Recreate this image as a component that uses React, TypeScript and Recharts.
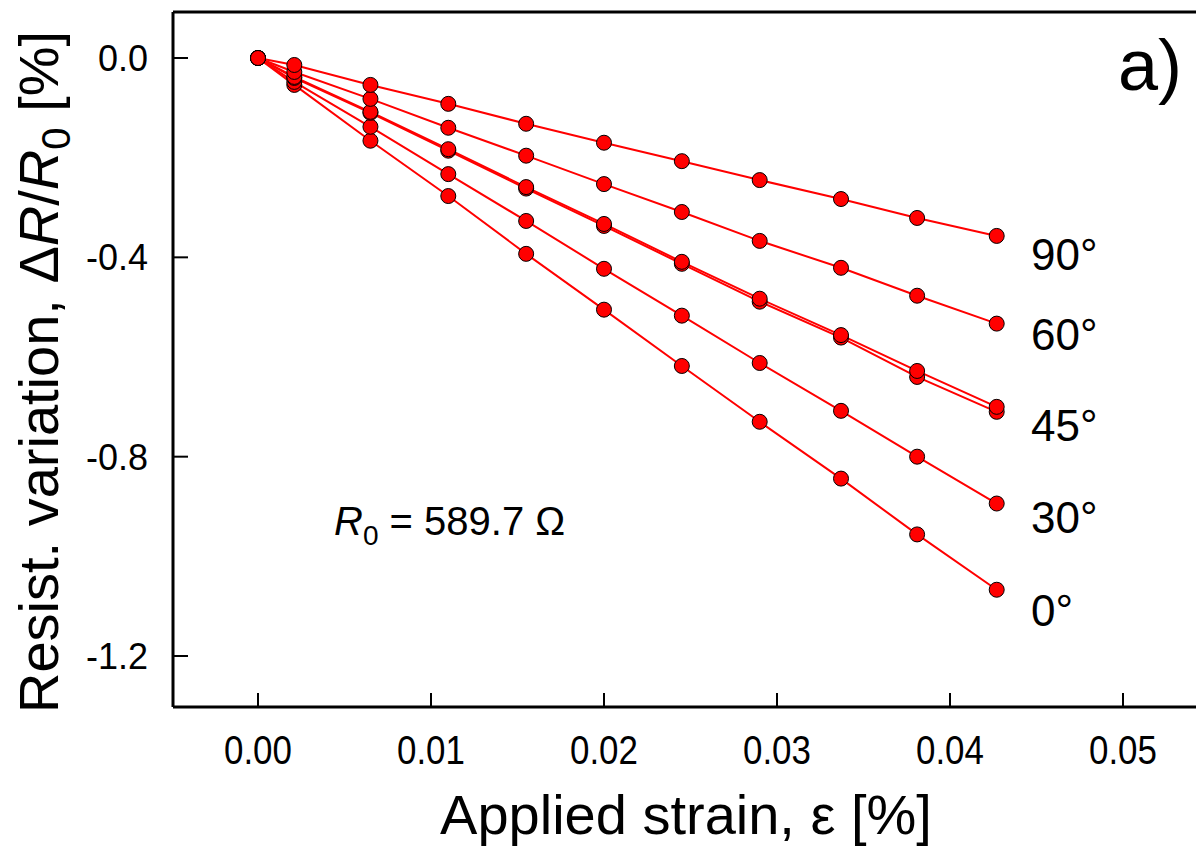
import { LineChart, Line, XAxis, YAxis, ReferenceLine, Customized } from 'recharts';

// applied strain [%]
const strain = [0, 0.0021, 0.0065, 0.011, 0.0155, 0.02, 0.0245, 0.029, 0.0337, 0.0381, 0.0427];

// resistance variation dR/R0 [%] per angle
const deg0 = [0, -0.054, -0.166, -0.277, -0.393, -0.505, -0.618, -0.73, -0.844, -0.956, -1.067];
const deg30 = [0, -0.048, -0.138, -0.233, -0.327, -0.423, -0.517, -0.612, -0.708, -0.8, -0.894];
const deg45b = [0, -0.04, -0.11, -0.186, -0.262, -0.337, -0.413, -0.489, -0.561, -0.64, -0.71];
const deg45 = [0, -0.038, -0.108, -0.183, -0.259, -0.333, -0.409, -0.483, -0.556, -0.628, -0.7];
const deg60 = [0, -0.028, -0.082, -0.14, -0.196, -0.253, -0.309, -0.367, -0.421, -0.477, -0.533];
const deg90 = [0, -0.014, -0.054, -0.092, -0.132, -0.17, -0.207, -0.245, -0.283, -0.321, -0.357];

const xTicks = [0, 0.01, 0.02, 0.03, 0.04, 0.05];
const yTicks = [0, -0.4, -0.8, -1.2];

const angleLabels = ['90°', '60°', '45°', '30°', '0°'];
const angleLabelY = [270, 350, 441, 533, 626];

const rows = strain.map((s, i) => ({
  strain: s,
  d0: deg0[i],
  d30: deg30[i],
  d45b: deg45b[i],
  d45: deg45[i],
  d60: deg60[i],
  d90: deg90[i],
}));

const seriesKeys = ['d0', 'd30', 'd45b', 'd45', 'd60', 'd90'];

const X_DOMAIN = [-0.004913, 0.05422];
const Y_DOMAIN = [-1.3023, 0.0923];

const FONT = 'Arial, "Liberation Sans", Helvetica, sans-serif';
const RED = '#ff0000';

function XTick(props: any) {
  const { x, y, payload } = props;
  return (
    <g>
      <line x1={x} y1={y} x2={x} y2={y - 14} stroke="#000" strokeWidth={2} />
      <text
        x={x}
        y={y + 57}
        textAnchor="middle"
        fontSize={41}
        fontFamily={FONT}
        fill="#000"
        textLength={68}
        lengthAdjust="spacingAndGlyphs"
      >
        {payload.value.toFixed(2)}
      </text>
    </g>
  );
}

function YTick(props: any) {
  const { x, y, payload } = props;
  return (
    <g>
      <line x1={x} y1={y} x2={x + 15} y2={y} stroke="#000" strokeWidth={2} />
      <text x={x - 25} y={y + 13} textAnchor="end" fontSize={36} fontFamily={FONT} fill="#000">
        {payload.value.toFixed(1)}
      </text>
    </g>
  );
}

function Annotations() {
  return (
    <g fontFamily={FONT} fill="#000">
      <text x={1118} y={90} fontSize={72}>a)</text>
      {angleLabels.map((t, i) => (
        <text key={t} x={1031} y={angleLabelY[i]} fontSize={44}>{t}</text>
      ))}
      <text x={334} y={535} fontSize={40}>
        <tspan fontStyle="italic">R</tspan>
        <tspan fontSize={28} dy={10}>0</tspan>
        <tspan dy={-10}> = 589.7 Ω</tspan>
      </text>
      <text x={686} y={834} fontSize={56} textAnchor="middle">Applied strain, ε [%]</text>
      <text transform="translate(58,372) rotate(-90)" fontSize={56} textAnchor="middle">
        Resist. variation, Δ
        <tspan fontStyle="italic">R</tspan>/
        <tspan fontStyle="italic">R</tspan>
        <tspan fontSize={40} dy={12}>0</tspan>
        <tspan dy={-12}> [%]</tspan>
      </text>
    </g>
  );
}

export default function App() {
  return (
    <div style={{ position: 'absolute', left: 0, top: 0, background: '#fff' }}>
      <LineChart width={1196} height={848} data={rows} margin={{ top: 12, right: 0, bottom: 0, left: 0 }}>
        <XAxis
          dataKey="strain"
          type="number"
          domain={X_DOMAIN}
          ticks={xTicks}
          tickSize={0}
          tickMargin={0}
          tickLine={false}
          tick={<XTick />}
          axisLine={{ stroke: '#000', strokeWidth: 3 }}
          height={141}
          allowDataOverflow
        />
        <YAxis
          type="number"
          domain={Y_DOMAIN}
          ticks={yTicks}
          tickSize={0}
          tickMargin={0}
          tickLine={false}
          tick={<YTick />}
          axisLine={{ stroke: '#000', strokeWidth: 3 }}
          width={173}
          allowDataOverflow
        />
        <ReferenceLine y={Y_DOMAIN[1]} stroke="#000" strokeWidth={3} />
        {seriesKeys.map((k) => (
          <Line
            key={k}
            dataKey={k}
            stroke={RED}
            strokeWidth={2}
            dot={{ r: 7.5, fill: RED, stroke: '#000', strokeWidth: 1 }}
            activeDot={false}
            isAnimationActive={false}
          />
        ))}
        <Customized component={<Annotations />} />
      </LineChart>
    </div>
  );
}
